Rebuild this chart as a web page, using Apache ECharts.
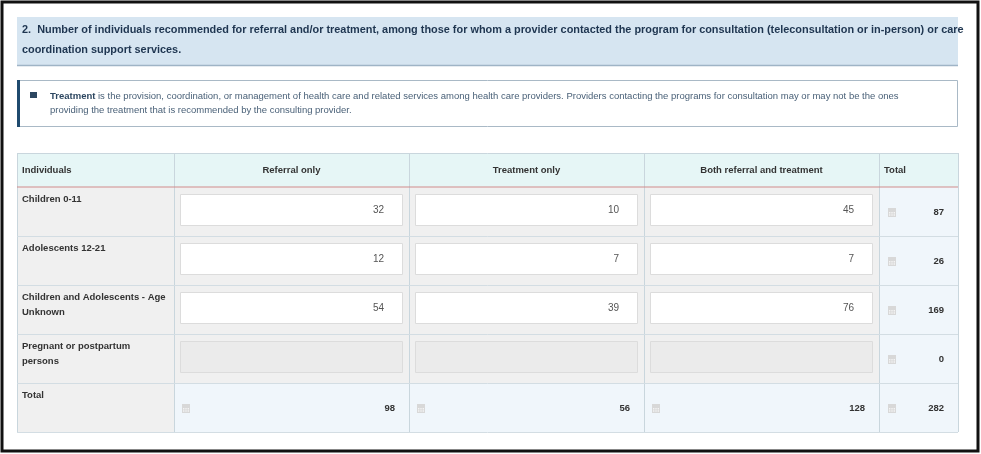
<!DOCTYPE html>
<html>
<head>
<meta charset="utf-8">
<script src="https://cdn.jsdelivr.net/npm/echarts@6/dist/echarts.min.js"></script>
<style>
  html, body { margin: 0; padding: 0; background: #fff; }
  #main { width: 981px; height: 454px; }
</style>
</head>
<body>
<div id="main"></div>
<script>
var titleLines = [
    '2.  Number of individuals recommended for referral and/or treatment, among those for whom a provider contacted the program for consultation (teleconsultation or in-person) or care',
    'coordination support services.'
];
var noteLines = [
    'is the provision, coordination, or management of health care and related services among health care providers. Providers contacting the programs for consultation may or may not be the ones',
    'providing the treatment that is recommended by the consulting provider.'
];
var columns = ['Individuals', 'Referral only', 'Treatment only', 'Both referral and treatment', 'Total'];
var rowLabels = [['Children 0-11'], ['Adolescents 12-21'], ['Children and Adolescents - Age', 'Unknown'], ['Pregnant or postpartum', 'persons']];
var referralOnly = [32, 12, 54, null];
var treatmentOnly = [10, 7, 39, null];
var bothValues = [45, 7, 76, null];
var rowTotals = [87, 26, 169, 0];
var colTotals = [98, 56, 128, 282];

var colX = [17, 174, 409, 644, 879, 958];
var headTop = 153, headH = 34, rowH = 49;
var font = 'Arial, "Liberation Sans", sans-serif';

var chart = echarts.init(document.getElementById('main'));
var els = [];

function rect(x, y, w, h, fill, stroke, lw) {
    els.push({ type: 'rect', shape: { x: x, y: y, width: w, height: h },
        style: { fill: fill, stroke: stroke || null, lineWidth: lw || 1 } });
}
function line(x1, y1, x2, y2, color, lw) {
    els.push({ type: 'line', shape: { x1: x1, y1: y1, x2: x2, y2: y2 },
        style: { stroke: color, lineWidth: lw || 1 } });
}
function text(x, y, s, opt) {
    opt = opt || {};
    els.push({ type: 'text', x: x, y: y, style: {
        text: s, fill: opt.color || '#333', font: (opt.bold ? 'bold ' : '') + (opt.size || 10) + 'px ' + font,
        textAlign: opt.align || 'left', textVerticalAlign: 'middle' } });
}
function calcIcon(x, y) {
    rect(x, y, 8, 9, '#d8d8d8');
    for (var i = 0; i < 3; i++) for (var j = 0; j < 2; j++) rect(x + 1 + i * 2.3, y + 4 + j * 2.3, 1.4, 1.4, '#f4f4f4');
}

// frame
rect(2, 2, 976, 449, '#fff', '#111', 3);

// title box
rect(17, 17, 941, 48, '#d6e5f1');
line(17, 65.5, 958, 65.5, '#9fb4c6', 1.5);
text(22, 30, titleLines[0], { bold: true, size: 10.9, color: '#1e3550' });
text(22, 50, titleLines[1], { bold: true, size: 10.9, color: '#1e3550' });

// note box
rect(17.5, 80.5, 940, 46, '#fff', '#a9b9c6', 1);
rect(17, 80, 3, 47, '#1f4a6e');
rect(30, 92, 7, 6, '#2c4660');
text(50, 96, 'Treatment', { bold: true, size: 9.5, color: '#2c4660' });
text(98, 96, noteLines[0], { size: 9.5, color: '#4a6178' });
text(50, 110, noteLines[1], { size: 9.5, color: '#4a6178' });

// header
rect(17, headTop, 941, headH, '#e6f6f6');
columns.forEach(function (c, i) {
    var left = i === 0 || i === 4;
    text(left ? colX[i] + 5 : (colX[i] + colX[i + 1]) / 2, headTop + headH / 2, c,
        { bold: true, size: 9.5, color: '#333', align: left ? 'left' : 'center' });
});

var cols = [referralOnly, treatmentOnly, bothValues];
for (var r = 0; r < 5; r++) {
    var y = headTop + headH + r * rowH;
    var isTotal = r === 4;
    rect(colX[0], y, colX[1] - colX[0], rowH, '#f0f0f0');
    var labels = isTotal ? ['Total'] : rowLabels[r];
    labels.forEach(function (l, k) {
        text(colX[0] + 5, y + 12 + k * 15, l, { bold: true, size: 9.5, color: '#333' });
    });
    for (var c = 0; c < 3; c++) {
        var x0 = colX[c + 1], w = colX[c + 2] - x0;
        if (isTotal) {
            rect(x0, y, w, rowH, '#f0f6fb');
            calcIcon(x0 + 8, y + 21);
            text(x0 + w - 14, y + 25, String(colTotals[c]), { bold: true, size: 9.5, color: '#333', align: 'right' });
        } else {
            rect(x0, y, w, rowH, '#f0f0f0');
            var v = cols[c][r];
            rect(x0 + 6.5, y + 7.5, w - 13, 31, v === null ? '#ebebeb' : '#fff', '#dcdcdc', 1);
            if (v !== null) text(x0 + w - 25, y + 23, String(v), { size: 10, color: '#555', align: 'right' });
        }
    }
    rect(colX[4], y, colX[5] - colX[4], rowH, '#f0f6fb');
    calcIcon(colX[4] + 9, y + 21);
    text(colX[5] - 14, y + 25, String(isTotal ? colTotals[3] : rowTotals[r]), { bold: true, size: 9.5, color: '#333', align: 'right' });
}

// grid lines
var bottom = headTop + headH + 5 * rowH;
for (var i = 0; i < colX.length; i++) line(colX[i] + 0.5, headTop, colX[i] + 0.5, bottom, '#c9d6dd', 1);
line(17, headTop + 0.5, 958, headTop + 0.5, '#c9d6dd', 1);
line(17, headTop + headH, 958, headTop + headH, '#d08c8c', 1.2);
for (var k = 1; k <= 5; k++) line(17, headTop + headH + k * rowH + 0.5, 958, headTop + headH + k * rowH + 0.5, '#d3dde3', 1);

chart.setOption({ animation: false, graphic: { elements: els } });
</script>
</body>
</html>
